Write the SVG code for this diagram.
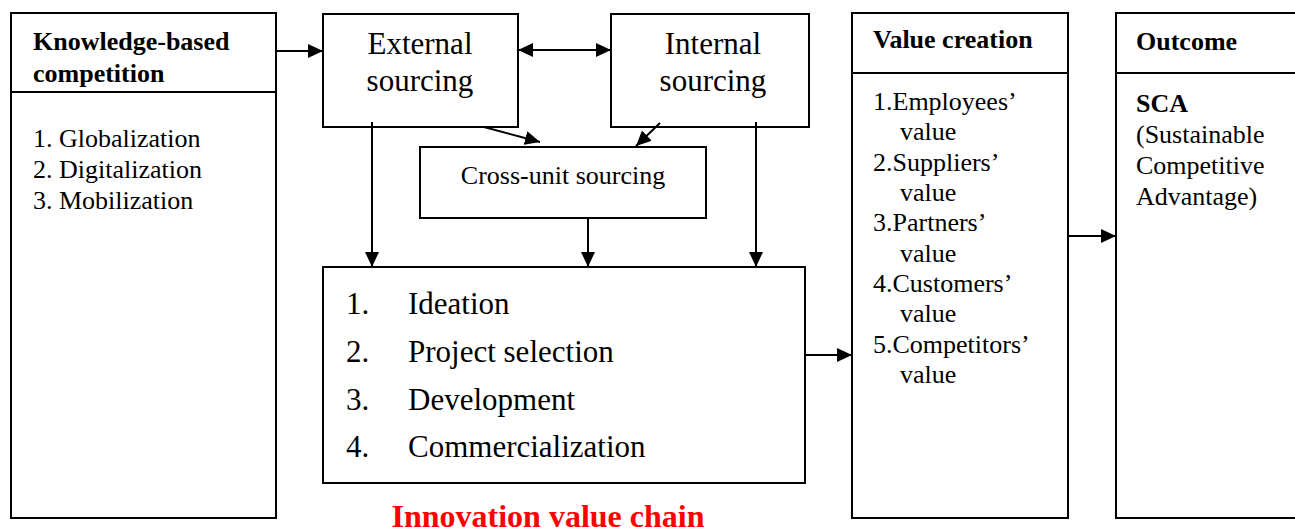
<svg xmlns="http://www.w3.org/2000/svg" width="1295" height="530" viewBox="0 0 1295 530">
<style>
.box{fill:#fff;stroke:#000;stroke-width:2}
.ln{stroke:#000;stroke-width:2;fill:none}
text{font-family:'Liberation Serif','Times New Roman','DejaVu Serif',serif;fill:#000}
.b{font-weight:bold}
.red{fill:#ff0000}
</style>
<defs>
<marker id="ah" viewBox="0 0 15 14" refX="15" refY="7" markerWidth="15" markerHeight="14" markerUnits="userSpaceOnUse" orient="auto-start-reverse">
<path d="M0,0 L15,7 L0,14 z" fill="#000"/>
</marker>
</defs>
<rect width="1295" height="530" fill="#fff"/>
<g font-family="Liberation Serif, Times New Roman, DejaVu Serif, serif">
<g id="knowledge">
<rect class="box" x="11" y="13" width="265" height="505"/>
<line class="ln" x1="11" y1="92" x2="276" y2="92"/>
<text class="b" x="33" y="50" font-size="26">Knowledge-based</text>
<text class="b" x="33" y="82" font-size="26">competition</text>
<text x="33" y="147" font-size="26">1. Globalization</text>
<text x="33" y="178" font-size="26">2. Digitalization</text>
<text x="33" y="209" font-size="26">3. Mobilization</text>
</g>
<g id="external">
<rect class="box" x="323" y="14" width="195" height="113"/>
<text x="420" y="54" font-size="31" text-anchor="middle">External</text>
<text x="420" y="91" font-size="31" text-anchor="middle">sourcing</text>
</g>
<g id="internal">
<rect class="box" x="611" y="14" width="198" height="113"/>
<text x="713" y="54" font-size="31" text-anchor="middle">Internal</text>
<text x="713" y="91" font-size="31" text-anchor="middle">sourcing</text>
</g>
<g id="crossunit">
<rect class="box" x="420" y="147" width="286" height="71"/>
<text x="563" y="184" font-size="26" text-anchor="middle">Cross-unit sourcing</text>
</g>
<g id="innovation">
<rect class="box" x="323" y="267" width="482" height="216"/>
<text x="346" y="314" font-size="31">1.</text>
<text x="408" y="314" font-size="31">Ideation</text>
<text x="346" y="362" font-size="31">2.</text>
<text x="408" y="362" font-size="31">Project selection</text>
<text x="346" y="410" font-size="31">3.</text>
<text x="408" y="410" font-size="31">Development</text>
<text x="346" y="457" font-size="31">4.</text>
<text x="408" y="457" font-size="31">Commercialization</text>
</g>
<g id="ivc-label">
<text class="b red" x="548" y="527" font-size="32" text-anchor="middle">Innovation value chain</text>
</g>
<g id="value">
<rect class="box" x="852" y="13" width="216" height="505"/>
<line class="ln" x1="852" y1="73" x2="1068" y2="73"/>
<text class="b" x="873" y="48" font-size="26">Value creation</text>
<text font-size="26">
<tspan x="873" y="110">1.Employees’</tspan>
<tspan x="900" y="140">value</tspan>
<tspan x="873" y="171">2.Suppliers’</tspan>
<tspan x="900" y="201">value</tspan>
<tspan x="873" y="231">3.Partners’</tspan>
<tspan x="900" y="262">value</tspan>
<tspan x="873" y="292">4.Customers’</tspan>
<tspan x="900" y="322">value</tspan>
<tspan x="873" y="353">5.Competitors’</tspan>
<tspan x="900" y="383">value</tspan>
</text>
</g>
<g id="outcome">
<rect class="box" x="1116" y="13" width="200" height="505"/>
<line class="ln" x1="1116" y1="73" x2="1295" y2="73"/>
<text class="b" x="1136" y="50" font-size="26">Outcome</text>
<text class="b" x="1136" y="112" font-size="26">SCA</text>
<text x="1136" y="143" font-size="26">(Sustainable</text>
<text x="1136" y="174" font-size="26">Competitive</text>
<text x="1136" y="205" font-size="26">Advantage)</text>
</g>
</g>
<g id="connectors">
<line class="ln" x1="276" y1="51" x2="323" y2="51" marker-end="url(#ah)"/>
<line class="ln" x1="518" y1="50" x2="611" y2="50" marker-start="url(#ah)" marker-end="url(#ah)"/>
<line class="ln" x1="484" y1="127" x2="540" y2="142" marker-end="url(#ah)"/>
<line class="ln" x1="660" y1="123" x2="636" y2="146" marker-end="url(#ah)"/>
<line class="ln" x1="372" y1="122" x2="372" y2="267" marker-end="url(#ah)"/>
<line class="ln" x1="588" y1="218" x2="588" y2="267" marker-end="url(#ah)"/>
<line class="ln" x1="756" y1="122" x2="756" y2="267" marker-end="url(#ah)"/>
<line class="ln" x1="805" y1="355" x2="852" y2="355" marker-end="url(#ah)"/>
<line class="ln" x1="1068" y1="236" x2="1116" y2="236" marker-end="url(#ah)"/>
</g>
</svg>
